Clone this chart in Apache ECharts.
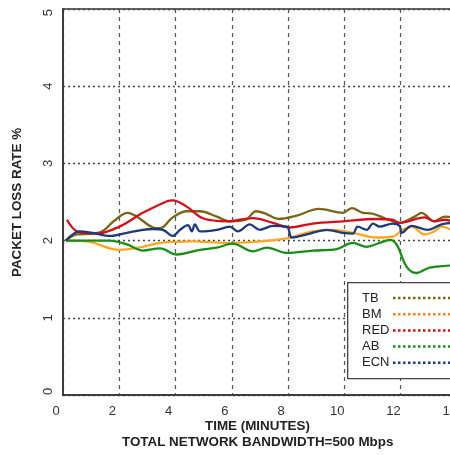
<!DOCTYPE html>
<html><head><meta charset="utf-8">
<script src="https://cdn.jsdelivr.net/npm/echarts@6/dist/echarts.min.js"></script>
<style>html,body{margin:0;padding:0;background:#fff;overflow:hidden;width:450px;height:455px}#c{width:530px;height:455px}</style>
</head><body><div id="c"></div>
<script>
// x tick labels (minutes) and y tick labels (%)
const xTicks = [0, 2, 4, 6, 8, 10, 12, 14, 16];
const yTicks = [0, 1, 2, 3, 4, 5];
const seriesNames = ['TB', 'BM', 'RED', 'AB', 'ECN'];

// TB
const tbTime = [0.1, 0.5, 1.05, 1.4, 1.8, 2.3, 2.63, 3.2, 3.45, 3.9, 4.4, 4.87, 5.47, 5.93, 6.5, 6.86, 7.2, 7.66, 8.28, 9.1, 9.95, 10.27, 10.66, 11.0, 11.51, 11.97, 12.5, 12.75, 13.2, 13.57, 13.9];
const tbValue = [2.0, 2.08, 2.09, 2.12, 2.25, 2.36, 2.31, 2.17, 2.16, 2.30, 2.38, 2.38, 2.31, 2.25, 2.27, 2.38, 2.35, 2.28, 2.32, 2.41, 2.36, 2.42, 2.36, 2.35, 2.28, 2.23, 2.31, 2.36, 2.25, 2.31, 2.30];
// BM
const bmTime = [0.1, 0.85, 2.0, 2.84, 3.45, 4.62, 5.83, 7.0, 7.96, 8.88, 9.59, 10.3, 11.15, 11.72, 12.08, 12.4, 12.86, 13.2, 13.46, 13.9];
const bmValue = [2.0, 1.99, 1.88, 1.92, 1.97, 1.99, 1.97, 1.99, 2.03, 2.12, 2.14, 2.10, 2.04, 2.05, 2.14, 2.18, 2.08, 2.12, 2.18, 2.12];
// RED
const redTime = [0.14, 0.5, 1.2, 2.0, 2.84, 3.7, 3.9, 4.4, 4.97, 5.83, 6.75, 7.46, 8.06, 8.88, 9.95, 11.15, 11.7, 11.97, 12.86, 13.2, 13.57, 13.9];
const redValue = [2.27, 2.12, 2.09, 2.18, 2.36, 2.51, 2.52, 2.44, 2.29, 2.25, 2.29, 2.23, 2.17, 2.22, 2.25, 2.28, 2.27, 2.23, 2.30, 2.25, 2.27, 2.24];
// AB
const abTime = [0.1, 1.67, 2.27, 2.84, 3.45, 4.05, 4.87, 5.47, 6.04, 6.75, 7.25, 7.96, 8.88, 9.73, 10.3, 10.8, 11.26, 11.62, 11.86, 12.22, 12.57, 13.04, 13.9];
const abValue = [2.0, 2.0, 1.95, 1.87, 1.90, 1.82, 1.88, 1.91, 1.96, 1.86, 1.91, 1.84, 1.87, 1.89, 1.97, 1.92, 1.97, 2.01, 1.95, 1.66, 1.58, 1.65, 1.68];
// ECN
const ecnTime = [0.1, 0.6, 1.07, 1.67, 2.27, 2.84, 3.2, 3.55, 3.9, 4.16, 4.44, 4.58, 4.69, 4.87, 5.47, 5.93, 6.22, 6.64, 7.0, 7.46, 7.96, 8.14, 8.67, 9.38, 9.95, 10.3, 10.48, 10.8, 11.02, 11.26, 11.72, 11.97, 12.04, 12.4, 12.97, 13.46, 13.9];
const ecnValue = [2.0, 2.12, 2.10, 2.06, 2.10, 2.14, 2.15, 2.14, 2.06, 2.14, 2.20, 2.12, 2.21, 2.12, 2.14, 2.18, 2.12, 2.21, 2.14, 2.19, 2.18, 2.04, 2.08, 2.14, 2.10, 2.09, 2.18, 2.14, 2.22, 2.18, 2.22, 2.19, 2.10, 2.19, 2.14, 2.21, 2.23];

const colors = ['#7a6418', '#ffa520', '#d0101a', '#1a8c1a', '#1f3a7a'];
const legendColors = ['#7a6418', '#ff7f1e', '#d0101a', '#1a8c1a', '#1f3a7a'];

function pairs(t, v) { return t.map((x, i) => [x, v[i]]); }
const allData = [pairs(tbTime, tbValue), pairs(bmTime, bmValue), pairs(redTime, redValue), pairs(abTime, abValue), pairs(ecnTime, ecnValue)];

const font = 'Liberation Sans, Arial, sans-serif';

// legend box drawn as graphic (it runs off the right edge in the reference)
const legendGraphics = [{
  type: 'rect', left: 347, top: 282, z: 20,
  shape: {width: 150, height: 96}, style: {fill: '#fff', stroke: '#444', lineWidth: 1.3}
}];
seriesNames.forEach((n, i) => {
  const cy = 298 + i * 16.2;
  legendGraphics.push({type: 'text', x: 362, y: cy, z: 21,
    style: {text: n, font: '13px ' + font, fill: '#222', verticalAlign: 'middle', textAlign: 'left'}});
  legendGraphics.push({type: 'line', z: 21,
    shape: {x1: 393, y1: cy, x2: 470, y2: cy},
    style: {stroke: legendColors[i], lineWidth: 2.5, lineDash: [2.5, 2.5]}});
});

const chart = echarts.init(document.getElementById('c'), null, {renderer: 'canvas'});
chart.setOption({
  animation: false,
  backgroundColor: '#fff',
  grid: {left: 63, top: 9, right: 17, bottom: 60, show: true, borderColor: '#333', borderWidth: 1.5, backgroundColor: 'transparent'},
  xAxis: {
    type: 'value', min: xTicks[0], max: xTicks[xTicks.length - 1], interval: 2,
    axisLine: {show: true, lineStyle: {color: '#333', width: 1.5}},
    axisTick: {show: false},
    axisLabel: {color: '#333', fontSize: 13, fontFamily: font, margin: 10, padding: [0, 14, 0, 0],
      formatter: v => xTicks.includes(v) ? String(v) : ''},
    splitLine: {show: true, lineStyle: {color: '#555', type: [4, 4], width: 1.2}}
  },
  yAxis: {
    type: 'value', min: yTicks[0], max: yTicks[yTicks.length - 1], interval: 1,
    axisLine: {show: true, lineStyle: {color: '#333', width: 1.5}},
    axisTick: {show: false},
    axisLabel: {color: '#333', fontSize: 13, fontFamily: font, rotate: 90, margin: 8,
      alignMinLabel: 'left', alignMaxLabel: 'right',
      formatter: v => yTicks.includes(v) ? String(v) : ''},
    splitLine: {show: true, lineStyle: {color: '#444', type: [2, 3], width: 1.3}}
  },
  graphic: [
    {type: 'text', left: 205, top: 420, z: 10, style: {text: 'TIME (MINUTES)', font: 'bold 13.4px ' + font, fill: '#222'}},
    {type: 'text', left: 122, top: 436, z: 10, style: {text: 'TOTAL NETWORK BANDWIDTH=500 Mbps', font: 'bold 13.4px ' + font, fill: '#222'}},
    {type: 'text', x: 11, y: 277, rotation: Math.PI / 2, z: 10,
      style: {text: 'PACKET LOSS RATE %', font: 'bold 13.4px ' + font, fill: '#222', textAlign: 'left', verticalAlign: 'top'}}
  ].concat(legendGraphics),
  series: seriesNames.map((n, i) => ({
    name: n, type: 'line', data: allData[i], smooth: 0.35, showSymbol: false,
    lineStyle: {color: colors[i], width: 2.3}, itemStyle: {color: colors[i]}, z: 3
  }))
});
</script></body></html>
